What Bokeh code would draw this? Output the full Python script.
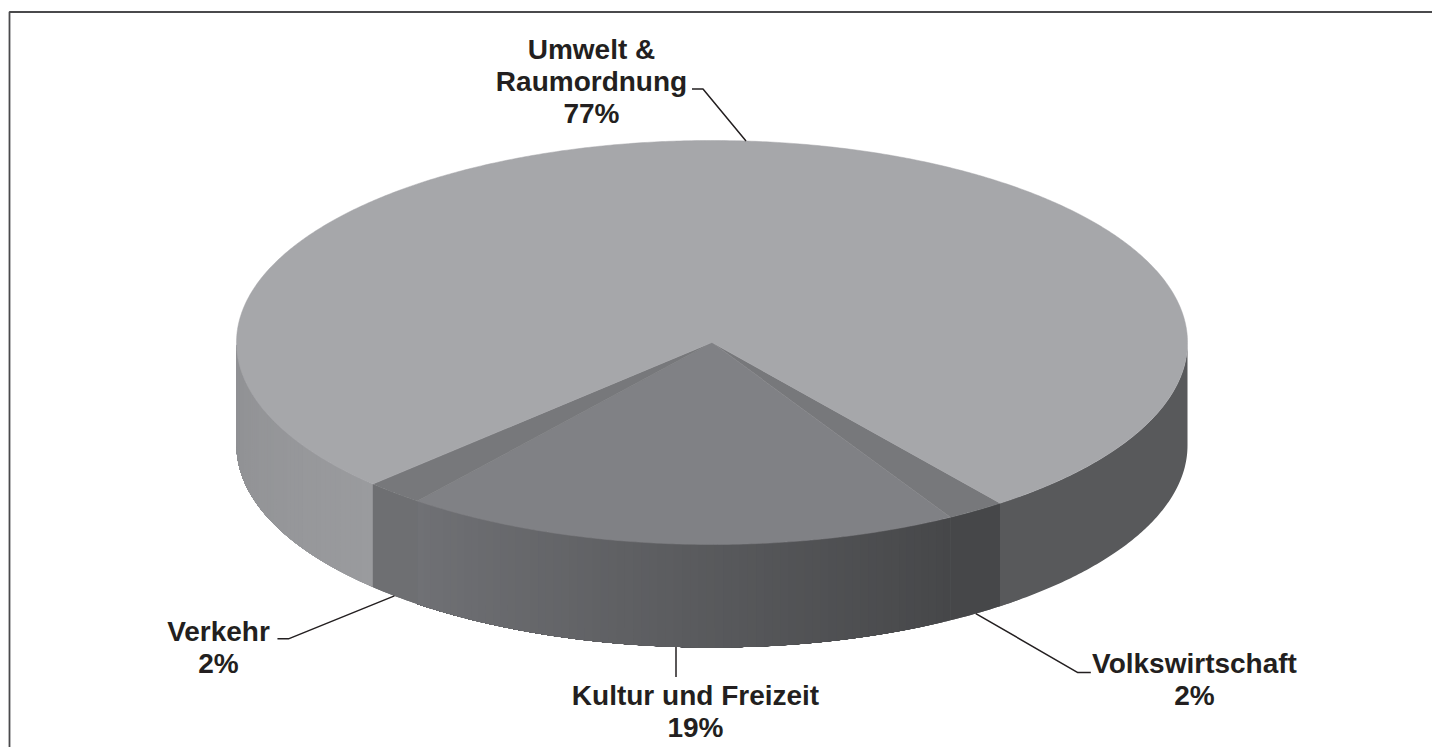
import numpy as np
from bokeh.plotting import figure
from bokeh.models import Range1d
from bokeh.core.properties import value
from bokeh.embed import file_html
from bokeh.resources import INLINE

# --- data (clockwise from the right-hand cut)
categories = ["Volkswirtschaft", "Kultur und Freizeit", "Verkehr", "Umwelt &\nRaumordnung"]
shares = [2, 19, 2, 77]
percent_labels = ["2%", "19%", "2%", "77%"]

# --- geometry / style
CX, CY, RX, RY, DEPTH = 711.5, 342.0, 475.5, 202.0, 103.0
START = 52.7
TOP_COL = ["#77787b", "#808185", "#77787b", "#a6a7aa"]
WALL_STOPS = [("#464749", "#464749"), ("#464749", "#707175"), ("#6e6f72", "#6e6f72"), None]
INK = "#231f20"
FONT = value("Liberation Sans")

p = figure(width=1432, height=747, x_range=Range1d(0, 1432), y_range=Range1d(747, 0),
           output_backend="svg", toolbar_location=None, min_border=0,
           outline_line_color=None)
p.axis.visible = False
p.grid.visible = False
p.background_fill_color = "white"
p.border_fill_color = "white"


def pt(deg, drop=0.0):
    a = np.radians(deg)
    return CX + RX * np.cos(a), CY + RY * np.sin(a) + drop


def hexmix(c0, c1, t):
    a = [int(c0[i:i + 2], 16) for i in (1, 3, 5)]
    b = [int(c1[i:i + 2], 16) for i in (1, 3, 5)]
    return "#%02x%02x%02x" % tuple(int(round(u + (v - u) * t)) for u, v in zip(a, b))


def wall(a0, a1, c0, c1, step=1.0):
    """Side wall between two angles; colour runs from c0 at a0 to c1 at a1.
    Each strip runs on to a1 and the next paints over it, so no seams show."""
    n = 1 if c0 == c1 else max(1, int(np.ceil(abs(a1 - a0) / step)))
    e = np.linspace(a0, a1, n + 1)
    for i in range(n):
        th = np.linspace(e[i], a1, max(3, int(abs(a1 - e[i]) * 2)))
        x, y = pt(th)
        xx, yy = pt(th[::-1], DEPTH)
        col = hexmix(c0, c1, (i + 0.5) / n)
        p.patch(list(x) + list(xx), list(y) + list(yy), fill_color=col, line_color=None)


# cumulative cut angles from the shares
cuts = START + np.cumsum([0] + shares) * 3.6

# walls: an underlay first, so that no white shows at the joins
wall(cuts[0] - 3, cuts[3] + 3, "#5e5f62", "#5e5f62")
wall(cuts[0], cuts[1], *WALL_STOPS[0])
wall(cuts[1], cuts[2], *WALL_STOPS[1])
wall(cuts[2], cuts[3], *WALL_STOPS[2])
# the big slice shows two walls, right and left of the front
wall(0, cuts[0], "#58595b", "#58595b")
wall(cuts[3], 180, "#9a9b9e", "#8f9093")

# tops
for i, col in enumerate(TOP_COL):
    th = np.linspace(cuts[i], cuts[i + 1], max(8, int(shares[i] * 8)))
    x, y = pt(th)
    p.patch([CX] + list(x), [CY] + list(y), fill_color=col, line_color=col, line_width=0.5)

# leader lines start on the rim at each slice's middle angle
mids = (cuts[:-1] + cuts[1:]) / 2
x0, y0 = pt(mids[0], DEPTH)
p.line([x0, x0 + 102, x0 + 115], [y0, y0 + 59, y0 + 59], line_color=INK, line_width=1.5)
x1, y1 = pt(mids[1], DEPTH)
p.line([x1 - 2, x1 - 2], [y1, y1 + 30], line_color=INK, line_width=1.5)
x2, y2 = pt(mids[2], DEPTH)
p.line([x2, x2 - 106, x2 - 117], [y2, y2 + 43, y2 + 43], line_color=INK, line_width=1.5)
x3, y3 = pt(mids[3])
p.line([x3, x3 - 43, x3 - 54], [y3, y3 - 52, y3 - 52], line_color=INK, line_width=1.5)

# labels: x-centre and y of first line, per category
LABEL_POS = [(1194, 663), (695, 695), (218, 631), (591, 49)]
for cat, pct, (lx, ly) in zip(categories, percent_labels, LABEL_POS):
    rows = cat.split("\n") + [pct]
    p.text([lx] * len(rows), [ly + 32 * k for k in range(len(rows))], text=rows,
           text_font=FONT, text_font_style="bold", text_font_size="28px",
           text_color=INK, text_align="center", text_baseline="middle")

# frame: only the top and left sides are in view
p.line([9, 9, 1432], [747, 11.5, 11.5], line_color="#4a4a4c", line_width=1.8)

open("out.html", "w").write(file_html(p, INLINE))
